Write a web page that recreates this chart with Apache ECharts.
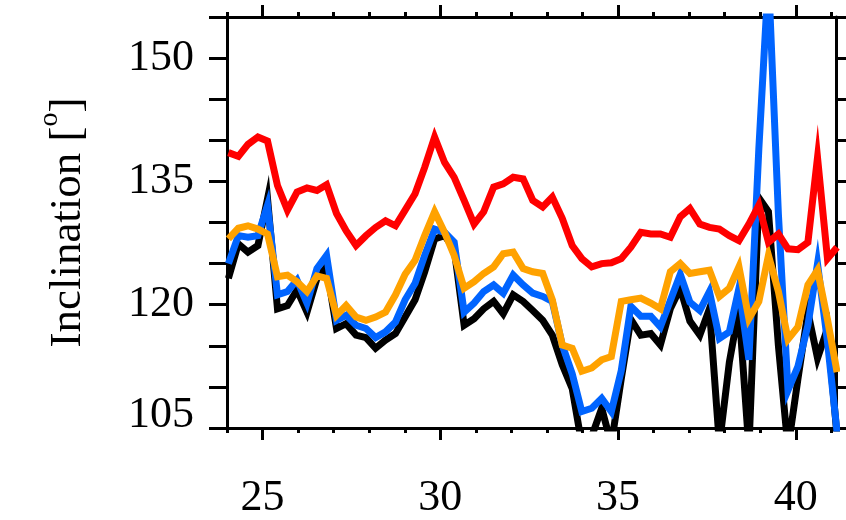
<!DOCTYPE html>
<html>
<head>
<meta charset="utf-8">
<script src="https://cdn.jsdelivr.net/npm/echarts@6/dist/echarts.min.js"></script>
<style>html,body{margin:0;padding:0;background:#fff}#c{width:846px;height:520px}</style>
</head>
<body>
<div id="c"></div>
<script>
var xValues = [24.04,24.32,24.59,24.87,25.14,25.42,25.70,25.97,26.25,26.53,26.80,27.08,27.35,27.63,27.91,28.18,28.46,28.74,29.01,29.29,29.56,29.84,30.12,30.39,30.67,30.95,31.22,31.50,31.77,32.05,32.33,32.60,32.88,33.15,33.43,33.71,33.98,34.26,34.54,34.81,35.09,35.36,35.64,35.92,36.19,36.47,36.75,37.02,37.30,37.57,37.85,38.13,38.40,38.68,38.96,39.23,39.51,39.78,40.06,40.34,40.61,40.89,41.16];
var blackValues = [123.2,127.4,126.4,127.2,132.9,119.5,119.9,121.8,119.1,123.2,124.6,117.1,117.7,116.3,116.0,114.7,115.7,116.5,118.5,120.6,124.0,128.0,128.4,126.8,117.5,118.3,119.5,120.4,118.9,121.2,120.4,119.3,118.1,116.3,112.7,109.8,103.0,104.0,107.4,103.0,111.0,118.2,116.3,116.5,115.1,119.5,122.0,118.0,116.3,119.5,103.0,113.0,119.5,102.5,133.0,131.3,115.0,102.5,111.0,119.1,113.5,117.1,104.0];
var blueValues = [125.0,128.4,128.2,128.4,132.1,121.2,121.6,123.0,120.2,124.4,126.0,118.1,118.7,117.5,117.1,116.0,116.7,117.9,120.6,122.6,126.0,129.2,128.8,127.6,119.1,120.2,121.6,122.4,121.4,123.6,122.4,121.4,121.0,120.4,115.1,111.6,107.0,107.4,108.6,107.0,112.0,119.8,118.6,118.6,117.3,120.5,123.7,120.3,119.3,121.6,115.9,116.7,122.0,113.3,139.0,160.0,131.0,109.6,112.5,117.5,125.0,115.5,104.5];
var orangeValues = [128.0,129.3,129.6,129.2,128.6,123.4,123.6,122.8,121.6,123.5,123.2,118.7,119.9,118.5,118.1,118.5,119.1,121.2,123.7,125.4,128.4,131.3,128.8,126.0,122.0,122.8,123.8,124.6,126.2,126.4,124.4,124.0,123.8,120.6,115.1,114.7,111.9,112.3,113.3,113.7,120.4,120.6,120.8,120.2,119.5,124.0,125.0,123.8,124.0,124.2,121.0,122.0,124.6,118.3,120.4,126.0,121.6,115.8,117.3,122.4,124.2,118.2,111.8];
var redValues = [138.5,138.05,139.5,140.4,139.9,134.5,131.5,133.7,134.2,133.9,134.6,131.1,129.0,127.2,128.4,129.4,130.2,129.6,131.5,133.5,136.7,140.4,137.3,135.5,132.7,129.8,131.3,134.3,134.7,135.5,135.3,132.7,131.9,133.1,130.5,127.2,125.6,124.6,125.0,125.1,125.6,127.0,128.8,128.6,128.6,128.2,130.7,131.7,129.8,129.4,129.2,128.4,127.8,129.8,132.1,127.6,128.6,126.8,126.7,127.6,137.9,125.6,127.0];
var xTickLabels = [25, 30, 35, 40];
var xMinorTicks = [24,25,26,27,28,29,30,31,32,33,34,35,36,37,38,39,40,41];
var yTickLabels = [105, 120, 135, 150];
var yAxisTitle = 'Inclination [{sup|o}]';

var FONT = '"Liberation Serif", "DejaVu Serif", serif';
var XMIN = 24, XMAX = 41.13, YMIN = 105, YMAX = 155;

function pairs(vals) { return xValues.map(function (x, i) { return [x, vals[i]]; }); }

function xAx(pos, len, ticks, showLabels) {
  return {
    type: 'value', position: pos, min: XMIN, max: XMAX, gridIndex: 0,
    axisLine: { show: true, onZero: false, lineStyle: { color: '#000', width: 3 } },
    axisTick: { show: true, inside: false, length: len, customValues: ticks, lineStyle: { color: '#000', width: 3 } },
    axisLabel: showLabels ? {
      show: true, customValues: xTickLabels, fontFamily: FONT, fontSize: 44, color: '#000', margin: 48
    } : { show: false },
    splitLine: { show: false }
  };
}
function yAx(pos, showLabels) {
  return {
    type: 'value', position: pos, min: YMIN, max: YMAX, interval: 5, gridIndex: 0,
    name: showLabels ? yAxisTitle : '',
    nameLocation: 'middle', nameGap: 126, nameRotate: 90,
    nameTextStyle: { fontFamily: FONT, fontSize: 45, color: '#000',
      rich: { sup: { fontFamily: FONT, fontSize: 28, color: '#000', padding: [0, 0, 37, 0] } } },
    axisLine: { show: true, onZero: false, lineStyle: { color: '#000', width: 3 } },
    axisTick: { show: true, inside: false, length: 18, lineStyle: { color: '#000', width: 3 } },
    axisLabel: showLabels ? {
      show: true, fontFamily: FONT, fontSize: 44, color: '#000', margin: 33,
      formatter: function (v) {
        if (yTickLabels.indexOf(v) < 0) return '';
        return v === YMIN ? '{lo|' + v + '}' : '' + v;
      },
      rich: { lo: { fontFamily: FONT, fontSize: 44, color: '#000', padding: [0, 0, 26, 0] } }
    } : { show: false },
    splitLine: { show: false }
  };
}

var chart = echarts.init(document.getElementById('c'), null, { renderer: 'canvas' });
function lineSeries(vals, color, z) {
  return {
    type: 'line', xAxisIndex: 0, yAxisIndex: 0, data: pairs(vals), showSymbol: false, symbol: 'none',
    z: z, clip: true, animation: false,
    lineStyle: { color: color, width: 7, join: 'miter', miterLimit: 10 }
  };
}
chart.setOption({
  animation: false,
  backgroundColor: '#fff',
  grid: { left: 227, right: 10, top: 17, bottom: 90, containLabel: false },
  xAxis: [
    xAx('bottom', 5, xMinorTicks, true),
    xAx('bottom', 12, xTickLabels, false),
    xAx('top', 5, xMinorTicks, false),
    xAx('top', 12, xTickLabels, false)
  ],
  yAxis: [yAx('left', true), yAx('right', false)],
  series: [
    lineSeries(blackValues, '#000000', 2),
    lineSeries(blueValues, '#0064ff', 3),
    lineSeries(orangeValues, '#ffa200', 4),
    lineSeries(redValues, '#ff0000', 5)
  ]
});
</script>
</body>
</html>
